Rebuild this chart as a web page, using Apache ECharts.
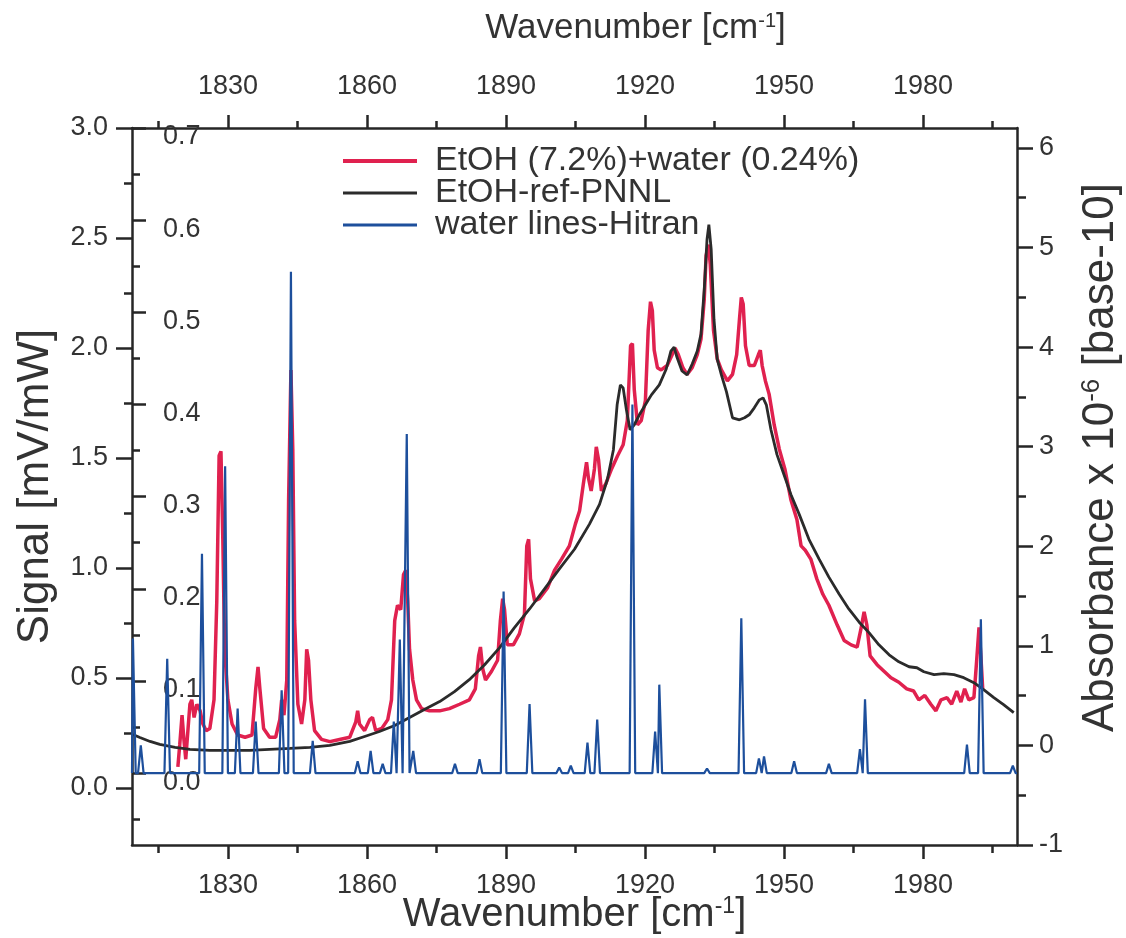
<!DOCTYPE html>
<html><head><meta charset="utf-8">
<script src="https://cdn.jsdelivr.net/npm/echarts@6/dist/echarts.min.js"></script>
<style>html,body{margin:0;padding:0;background:#fff}#c{width:1126px;height:938px}</style>
</head><body><div id="c"></div>
<script>
// ---------- axis ranges & tick labels ----------
const xMin = 1809.3, xMax = 2000.3;
const xMajorTicks = [1830, 1860, 1890, 1920, 1950, 1980];
const xMinorTicks = [1815, 1845, 1875, 1905, 1935, 1965, 1995];
const signalMin = -0.26, signalMax = 3.0;
const signalTicks = [0, 0.5, 1.0, 1.5, 2.0, 2.5, 3.0];
const signalMinorTicks = [0.25, 0.75, 1.25, 1.75, 2.25, 2.75];
const waterMin = -0.078, waterMax = 0.7;
const waterTicks = [0, 0.1, 0.2, 0.3, 0.4, 0.5, 0.6, 0.7];
const waterMinorTicks = [-0.05, 0.05, 0.15, 0.25, 0.35, 0.45, 0.55, 0.65];
const absMin = -1, absMax = 6.2;
const absTicks = [-1, 0, 1, 2, 3, 4, 5, 6];
const absMinorTicks = [-0.5, 0.5, 1.5, 2.5, 3.5, 4.5, 5.5];

// ---------- EtOH (7.2%)+water (0.24%) : signal [mV/mW] ----------
const redWn = [1819.2,1819.6,1820.1,1820.5,1820.9,1821.4,1821.8,1822.2,1822.7,1823.3,1824.0,1824.6,1825.3,1826.1,1827.0,1827.6,1828.1,1828.5,1828.9,1829.3,1830.0,1830.9,1832.1,1833.7,1835.2,1836.0,1836.5,1836.9,1837.7,1839.0,1840.3,1841.2,1841.6,1842.1,1842.7,1843.1,1843.6,1844.0,1844.4,1845.1,1845.9,1846.6,1847.0,1847.4,1847.9,1848.7,1850.2,1852.0,1854.1,1856.3,1857.6,1858.0,1858.4,1859.5,1860.6,1861.2,1861.9,1863.2,1864.5,1865.3,1866.0,1866.6,1867.3,1867.9,1868.4,1868.8,1869.2,1869.9,1870.7,1871.8,1873.5,1875.7,1877.8,1880.0,1882.1,1883.4,1884.1,1884.5,1885.0,1885.6,1886.9,1888.2,1888.8,1889.3,1889.7,1890.3,1891.6,1892.9,1894.0,1894.5,1894.9,1895.3,1896.2,1897.2,1899.0,1900.5,1902.0,1903.7,1905.0,1905.9,1906.7,1907.4,1907.8,1908.4,1909.1,1909.5,1910.0,1910.6,1911.5,1912.8,1914.1,1915.3,1916.2,1916.9,1917.3,1917.7,1918.4,1919.2,1920.1,1920.7,1921.2,1921.6,1922.0,1922.7,1923.5,1924.8,1925.9,1926.5,1927.2,1928.2,1929.1,1930.2,1931.3,1932.1,1932.8,1933.2,1933.7,1934.1,1934.8,1935.6,1936.5,1937.8,1938.9,1939.8,1940.4,1940.8,1941.2,1941.7,1942.5,1943.6,1944.5,1944.9,1945.3,1946.0,1946.8,1947.9,1949.0,1950.2,1951.5,1952.8,1953.7,1954.6,1955.8,1957.1,1958.4,1959.7,1961.5,1963.0,1964.5,1965.8,1966.6,1967.3,1967.9,1968.6,1970.1,1971.6,1973.1,1974.8,1976.5,1978.0,1979.1,1980.4,1981.7,1982.8,1983.9,1985.2,1986.2,1987.3,1988.2,1989.0,1989.9,1991.0,1991.6,1992.1,1992.5,1992.9];
const redSignal = [0.095,0.195,0.33,0.22,0.13,0.27,0.38,0.40,0.32,0.38,0.35,0.29,0.26,0.27,0.40,0.85,1.51,1.53,1.13,0.63,0.40,0.29,0.24,0.23,0.24,0.45,0.55,0.45,0.27,0.23,0.23,0.31,0.40,0.33,0.49,1.31,1.90,1.54,0.76,0.38,0.29,0.40,0.63,0.58,0.40,0.26,0.22,0.21,0.22,0.23,0.30,0.35,0.29,0.26,0.31,0.32,0.26,0.27,0.31,0.40,0.76,0.83,0.81,0.97,0.99,0.85,0.63,0.49,0.40,0.36,0.35,0.35,0.36,0.38,0.40,0.45,0.60,0.64,0.54,0.49,0.53,0.58,0.76,0.86,0.81,0.65,0.65,0.70,0.79,1.10,1.13,0.95,0.85,0.86,0.91,0.99,1.04,1.10,1.20,1.26,1.38,1.48,1.41,1.35,1.45,1.55,1.49,1.35,1.38,1.45,1.51,1.56,1.67,2.01,2.02,1.81,1.65,1.67,1.76,2.08,2.21,2.17,1.99,1.91,1.90,1.92,1.97,2.00,1.97,1.91,1.88,1.91,1.97,2.04,2.22,2.42,2.47,2.38,2.08,1.95,1.90,1.85,1.88,1.97,2.13,2.23,2.20,2.01,1.92,1.92,1.97,1.99,1.92,1.85,1.79,1.65,1.54,1.45,1.31,1.22,1.10,1.08,1.04,0.95,0.88,0.83,0.74,0.67,0.65,0.64,0.72,0.80,0.74,0.60,0.56,0.53,0.50,0.48,0.45,0.44,0.40,0.42,0.38,0.35,0.40,0.41,0.38,0.44,0.39,0.45,0.40,0.41,0.58,0.73,0.60,0.45];

// ---------- EtOH-ref-PNNL : absorbance x 1e-6 ----------
const blackWn = [1809.5,1811.0,1813.2,1815.3,1818.6,1821.8,1826.1,1830.4,1834.7,1839.0,1843.4,1847.7,1852.0,1856.3,1859.5,1862.7,1866.0,1869.2,1872.4,1875.7,1878.9,1882.1,1885.4,1888.6,1891.8,1895.1,1898.3,1901.5,1904.8,1908.0,1910.2,1911.9,1913.2,1914.0,1914.7,1915.3,1916.0,1916.8,1917.7,1918.8,1920.1,1921.4,1923.1,1924.6,1925.6,1926.3,1926.9,1928.0,1929.1,1930.2,1931.3,1932.1,1932.8,1933.4,1933.8,1934.3,1934.9,1935.6,1936.5,1937.6,1938.9,1940.4,1941.5,1942.5,1943.6,1944.7,1945.5,1946.2,1947.2,1948.5,1950.0,1951.5,1953.3,1955.4,1957.6,1959.7,1961.9,1964.0,1966.2,1968.4,1970.5,1972.7,1974.8,1977.0,1978.7,1980.2,1982.4,1984.5,1986.7,1988.8,1991.0,1993.1,1995.3,1997.4,1999.6];
const blackAbs = [0.11,0.08,0.04,0.01,-0.02,-0.04,-0.05,-0.05,-0.05,-0.04,-0.03,-0.02,0.00,0.04,0.09,0.14,0.20,0.28,0.36,0.44,0.54,0.66,0.81,0.98,1.18,1.37,1.57,1.77,1.97,2.22,2.42,2.67,2.97,3.42,3.62,3.59,3.37,3.17,3.22,3.32,3.42,3.52,3.62,3.78,3.96,4.00,3.90,3.76,3.72,3.83,3.96,4.13,4.58,5.08,5.23,4.98,4.28,3.88,3.72,3.55,3.29,3.27,3.29,3.32,3.39,3.47,3.49,3.42,3.17,2.92,2.72,2.52,2.32,2.07,1.87,1.69,1.52,1.37,1.24,1.13,1.01,0.91,0.84,0.79,0.78,0.74,0.71,0.72,0.71,0.68,0.63,0.56,0.48,0.41,0.33];

// ---------- water lines-Hitran : line position & intensity ----------
const waterWn  = [1809.5,1811.2,1816.9,1824.4,1829.4,1832.1,1836.0,1841.6,1843.6,1848.3,1858.0,1860.8,1863.4,1865.8,1867.1,1868.6,1870.0,1879.0,1884.3,1889.5,1895.1,1901.5,1904.0,1907.6,1909.7,1917.3,1922.2,1923.1,1933.4,1940.8,1944.6,1945.7,1952.2,1959.7,1966.4,1967.5,1989.5,1992.5,1999.4];
const waterInt = [0.146,0.03,0.124,0.238,0.333,0.07,0.056,0.09,0.544,0.035,0.013,0.024,0.01,0.056,0.145,0.368,0.024,0.01,0.015,0.197,0.075,0.006,0.008,0.033,0.058,0.40,0.045,0.096,0.005,0.168,0.016,0.018,0.013,0.01,0.026,0.08,0.031,0.167,0.008];

const zip = (a, b) => a.map((v, i) => [v, b[i]]);
const lineHalfWidth = 0.6;
const waterData = [[xMin, 0]];
waterWn.forEach((w, i) => {
  waterData.push([w - lineHalfWidth, 0], [w, waterInt[i]], [w + lineHalfWidth, 0]);
});
waterData.push([xMax, 0]);

const FONT = 'Liberation Sans, Arial, sans-serif';
const AX = '#262626';
const TXT = '#333';
const TICK_FS = 27;

function xAxisDef(pos, ticks, len, labels, extra) {
  return Object.assign({
    type: 'value', position: pos, min: xMin, max: xMax,
    axisLine: { show: labels, onZero: false, lineStyle: { color: AX, width: 2.5 } },
    axisTick: { show: true, customValues: ticks, length: len, lineStyle: { color: AX, width: 2.5 } },
    axisLabel: labels ? { show: true, customValues: ticks, formatter: v => String(v), fontSize: TICK_FS, fontFamily: FONT, color: TXT, margin: pos === 'bottom' ? 27 : 28 } : { show: false },
    splitLine: { show: false }
  }, extra || {});
}
function yAxisDef(pos, min, max, ticks, len, labels, extra) {
  return Object.assign({
    type: 'value', position: pos, min: min, max: max,
    axisLine: { show: false, onZero: false, lineStyle: { color: AX, width: 2.5 } },
    axisTick: { show: true, customValues: ticks, length: len, lineStyle: { color: AX, width: 2.5 } },
    axisLabel: labels ? Object.assign({ show: true, customValues: ticks, fontSize: TICK_FS, fontFamily: FONT, color: TXT }, labels) : { show: false },
    splitLine: { show: false }
  }, extra || {});
}

function titleStyle(size, padding) {
  return {
    fontSize: size, fontFamily: FONT, color: TXT, padding: padding || 0,
    rich: { sup: { fontSize: Math.round(size * 0.58), fontFamily: FONT, color: TXT, verticalAlign: 'top' } }
  };
}

// legend line icons: thin bar centred in a 14px-high box
const iconThick = 'path://M0,0M0,14M0,5H74V9H0Z';
const iconThin = 'path://M0,0M0,14M0,5.6H74V8.4H0Z';

const chart = echarts.init(document.getElementById('c'), null, { renderer: 'canvas' });
chart.setOption({
  animation: false,
  backgroundColor: '#fff',
  grid: { left: 132, right: 109, top: 128, bottom: 93, containLabel: false, outerBoundsMode: 'none' },
  legend: {
    orient: 'vertical', left: 338, top: 139, itemWidth: 74, itemHeight: 14, itemGap: -2,
    textStyle: { fontSize: 34, lineHeight: 30, fontFamily: FONT, color: TXT, padding: [0, 0, 0, 13] },
    data: [
      { name: 'EtOH (7.2%)+water (0.24%)', icon: iconThick },
      { name: 'EtOH-ref-PNNL', icon: iconThin },
      { name: 'water lines-Hitran', icon: iconThin }
    ]
  },
  xAxis: [
    xAxisDef('bottom', xMajorTicks, 14, true, {
      name: 'Wavenumber [cm{sup|-1}]', nameLocation: 'middle', nameGap: 50, nameMoveOverlap: false,
      nameTextStyle: titleStyle(40)
    }),
    xAxisDef('bottom', xMinorTicks, 8, false),
    xAxisDef('top', xMajorTicks, 13, true, {
      name: 'Wavenumber [cm{sup|-1}]', nameLocation: 'middle', nameGap: 82, nameTextStyle: titleStyle(35, [0, 0, 0, 122])
    }),
    xAxisDef('top', xMinorTicks, 7, false)
  ],
  yAxis: [
    yAxisDef('left', signalMin, signalMax, signalTicks, 16, { margin: 24, formatter: v => v.toFixed(1) }, {
      axisLine: { show: true, onZero: false, lineStyle: { color: AX, width: 2.5 } },
      name: 'Signal [mV/mW]', nameLocation: 'middle', nameGap: 74, nameTextStyle: titleStyle(44)
    }),
    yAxisDef('left', signalMin, signalMax, signalMinorTicks, 8, null),
    yAxisDef('left', waterMin, waterMax, waterTicks, 14, {
      inside: true, margin: 31, formatter: v => v.toFixed(1), verticalAlign: 'top', lineHeight: 18
    }, { axisTick: { show: true, inside: true, customValues: waterTicks, length: 14, lineStyle: { color: AX, width: 2.5 } } }),
    yAxisDef('left', waterMin, waterMax, waterMinorTicks, 8, null,
      { axisTick: { show: true, inside: true, customValues: waterMinorTicks, length: 8, lineStyle: { color: AX, width: 2.5 } } }),
    yAxisDef('right', absMin, absMax, absTicks, 16, { margin: 22, formatter: v => String(v) }, {
      axisLine: { show: true, onZero: false, lineStyle: { color: AX, width: 2.5 } },
      name: 'Absorbance x 10{sup|-6} [base-10]', nameLocation: 'middle', nameGap: 62, nameTextStyle: titleStyle(44, [0, 0, 0, 58])
    }),
    yAxisDef('right', absMin, absMax, absMinorTicks, 9, null)
  ],
  series: [
    {
      name: 'EtOH (7.2%)+water (0.24%)', type: 'line', xAxisIndex: 0, yAxisIndex: 0,
      data: zip(redWn, redSignal), symbol: 'none', showSymbol: false,
      lineStyle: { color: '#e0214f', width: 3.5 }, itemStyle: { color: '#e0214f' }, z: 2
    },
    {
      name: 'EtOH-ref-PNNL', type: 'line', xAxisIndex: 0, yAxisIndex: 4,
      data: zip(blackWn, blackAbs), symbol: 'none', showSymbol: false,
      lineStyle: { color: '#2b2b2b', width: 2.8 }, itemStyle: { color: '#2b2b2b' }, z: 3
    },
    {
      name: 'water lines-Hitran', type: 'line', xAxisIndex: 0, yAxisIndex: 2,
      data: waterData, symbol: 'none', showSymbol: false,
      lineStyle: { color: '#1d4f9c', width: 2.2 }, itemStyle: { color: '#1d4f9c' }, z: 4
    }
  ]
});
</script>
</body></html>
